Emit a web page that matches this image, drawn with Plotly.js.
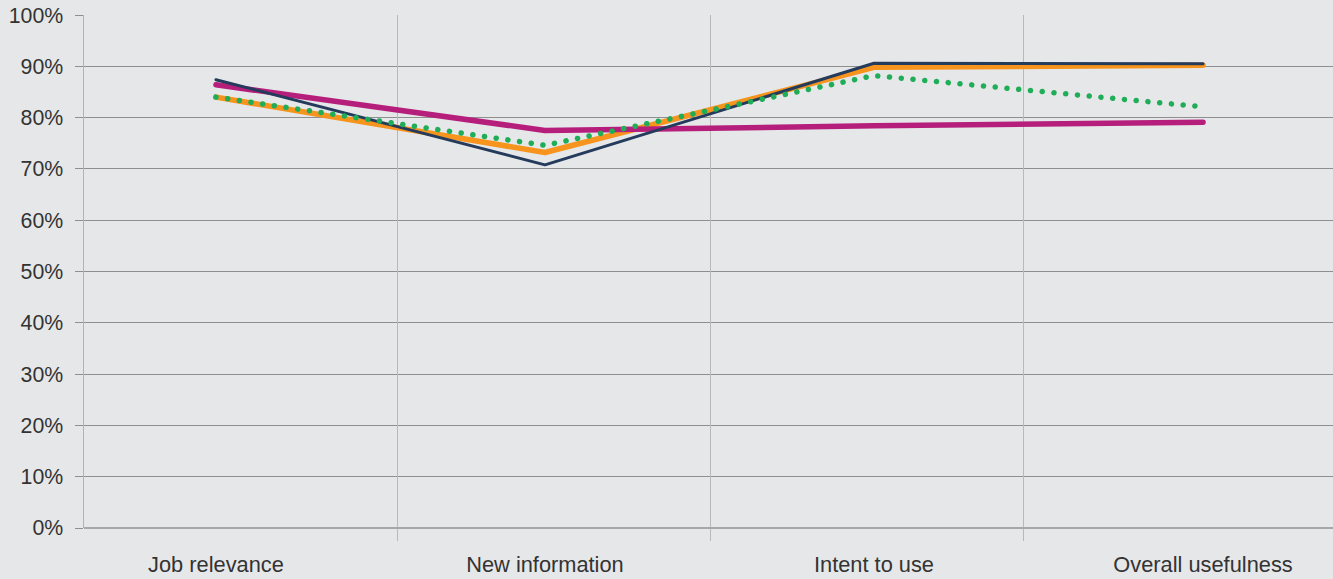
<!DOCTYPE html>
<html>
<head>
<meta charset="utf-8">
<script src="https://cdn.plot.ly/plotly-3.0.1.min.js"></script>
<style>
html,body{margin:0;padding:0;background:#e6e7e9;}
#chart{width:1333px;height:579px;}
</style>
</head>
<body>
<div id="chart"></div>
<script>
var categories = ["Job relevance", "New information", "Intent to use", "Overall usefulness"];
var seriesNavy = [0.874, 0.708, 0.906, 0.905];
var seriesOrange = [0.840, 0.732, 0.898, 0.902];
var seriesMagenta = [0.864, 0.775, 0.784, 0.791];
var seriesGreen = [0.840, 0.746, 0.882, 0.821];
var yTicks = [0, 0.1, 0.2, 0.3, 0.4, 0.5, 0.6, 0.7, 0.8, 0.9, 1.0];
var dividerTicks = [1, 2, 3];

var xIdx = categories.map(function(c, i){ return i; });

var traces = [
  {x: xIdx, y: seriesOrange, mode: 'lines', line: {color: '#f7941d', width: 5.5}, name: 'orange', hoverinfo: 'y'},
  {x: xIdx, y: seriesMagenta, mode: 'lines', line: {color: '#b51e7b', width: 5.5}, name: 'magenta', hoverinfo: 'y'},
  {x: xIdx, y: seriesNavy, mode: 'lines', line: {color: '#243b5c', width: 3}, name: 'navy', hoverinfo: 'y'},
  {x: xIdx, y: seriesGreen, mode: 'lines', line: {color: '#1fad57', width: 5.5, dash: 'dot'}, name: 'green', hoverinfo: 'y'}
];

var xfont = {family: '"Liberation Sans", Arial, sans-serif', size: 21.8, color: '#333333'};
var yfont = {family: '"Liberation Sans", Arial, sans-serif', size: 21.3, color: '#333333'};

var layout = {
  width: 1333, height: 579,
  paper_bgcolor: '#e6e7e9', plot_bgcolor: '#e6e7e9',
  margin: {l: 84, r: 0, t: 15, b: 51, pad: 0},
  showlegend: false,
  font: xfont,
  xaxis: {
    range: [-0.401, 3.395],
    tickvals: xIdx, ticktext: categories,
    showgrid: false, zeroline: false, showline: false,
    ticks: '', ticklabelstandoff: 21,
    tickfont: xfont, fixedrange: true
  },
  xaxis2: {
    overlaying: 'x', side: 'bottom', anchor: 'y',
    range: [0, 3.99],
    tickvals: dividerTicks, ticktext: dividerTicks.map(function(){return '';}),
    showgrid: true, gridcolor: '#b9b9b9', gridwidth: 1,
    ticks: 'outside', ticklen: 12, tickcolor: '#b9b9b9', tickwidth: 1,
    showline: false, zeroline: false, fixedrange: true
  },
  yaxis: {
    range: [0, 1.0001],
    tickvals: yTicks, tickformat: '.0%',
    showgrid: true, gridcolor: '#8f8f8f', gridwidth: 1,
    ticks: 'outside', ticklen: 8, tickcolor: '#8f8f8f', tickwidth: 1,
    showline: true, linecolor: '#b3b3b3', linewidth: 1.5,
    zeroline: true, zerolinecolor: '#a8a8a8', zerolinewidth: 1.5,
    ticklabelstandoff: 7,
    tickfont: yfont, fixedrange: true
  }
};

// invisible helper trace that activates the divider axis
traces.unshift({x: [0, 3.99], y: [null, null], xaxis: 'x2', yaxis: 'y', mode: 'lines', hoverinfo: 'skip', showlegend: false});

Plotly.newPlot('chart', traces, layout, {displayModeBar: false, staticPlot: true}).then(function(gd){
  var paths = gd.querySelectorAll('.scatterlayer .trace path.js-line');
  paths.forEach(function(p){ p.style.strokeLinecap = 'round'; p.style.strokeLinejoin = 'round'; });
  var last = paths[paths.length - 1];
  if (last) { last.style.strokeDasharray = '0.1px,11.7px'; }
});
</script>
</body>
</html>
